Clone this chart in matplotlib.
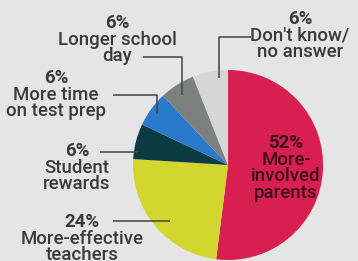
import numpy as np
import matplotlib
matplotlib.use("Agg")
import matplotlib.pyplot as plt

# slices, clockwise from 12 o'clock
labels = ["More-\ninvolved\nparents", "More-effective\nteachers", "Student\nrewards",
          "More time\non test prep", "Longer school\nday", "Don't know/\nno answer"]
values = [52, 24, 6, 6, 6, 6]
colors = ["#d81f50", "#d3d62e", "#0d3b44", "#2a7acb", "#7e8080", "#d6d6d6"]

W, H = 358, 261
fig = plt.figure(figsize=(W/100, H/100), dpi=100, facecolor="#e5e5e5")
ax = fig.add_axes([0, 0, 1, 1])
ax.set_facecolor("#e5e5e5")

cx, cy, r = 228, H - 165, 95
ax.pie(values, colors=colors, startangle=90, counterclock=False,
       center=(cx, cy), radius=r, explode=[0.075, 0, 0, 0, 0, 0],
       wedgeprops=dict(linewidth=0))
ax.set_xlim(0, W)
ax.set_ylim(0, H)
ax.set_aspect("equal")
ax.axis("off")

tc = "#3a3a3a"
fam = ["Roboto", "DejaVu Sans"]
fs = 13.4

def lab(x, y, pct, txt, color=tc):
    ax.text(x, H - y, f"{pct}%", ha="center", va="center", fontsize=fs,
            fontweight="bold", color=color, family=fam)
    ax.text(x, H - y - 8, txt, ha="center", va="top", fontsize=fs,
            fontweight="medium", color=color, family=fam, linespacing=0.88)

# outside labels (pixel positions of label centres)
lab(117, 23, values[4], labels[4])
lab(300, 19, values[5], labels[5])
lab(56, 78, values[3], labels[3])
lab(77, 151, values[2], labels[2])
lab(82, 222, values[1], labels[1])
lab(286, 143, values[0], labels[0], color="#3a0f1e")

# leader lines
lw, lc = 1.1, "#444444"
def leader(xs, ys):
    ax.plot(xs, [H - y for y in ys], color=lc, lw=lw, solid_capstyle="butt")

leader([143, 182, 182], [57, 57, 95])
leader([251, 219, 219], [37, 37, 78])
leader([113, 157, 157], [95, 95, 114])
leader([100, 138], [152, 152])
leader([113, 170], [221, 221])

fig.savefig("out.png", dpi=100, facecolor=fig.get_facecolor())
